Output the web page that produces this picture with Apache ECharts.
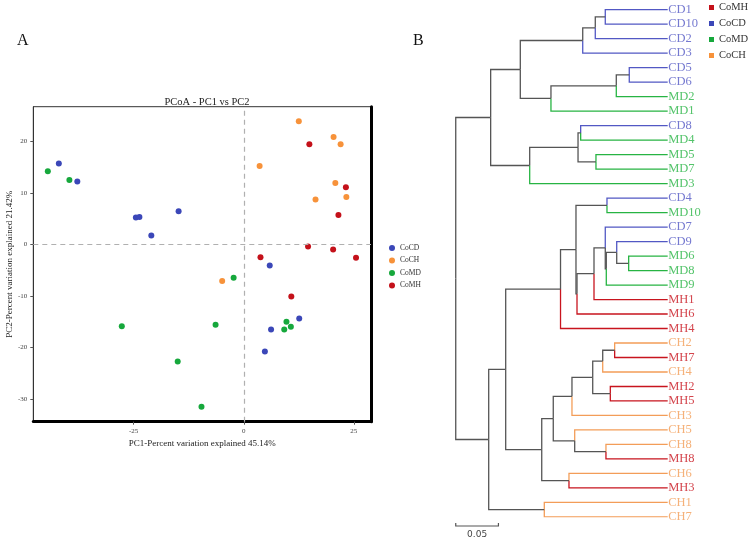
<!DOCTYPE html>
<html><head><meta charset="utf-8">
<script src="https://cdn.jsdelivr.net/npm/echarts@6/dist/echarts.min.js"></script>
<style>html,body{margin:0;padding:0;background:#fff}#c{width:754px;height:542px}</style>
</head><body><div id="c"></div>
<script>
// ---------- Panel A data (PCoA) ----------
const cdPoints = [[-42.0,15.7],[-37.8,12.2],[-24.5,5.2],[-23.7,5.3],[-21.0,1.7],[-14.8,6.4],[5.9,-4.1],[6.2,-16.5],[12.6,-14.4],[4.8,-20.8]];
const chPoints = [[12.5,23.9],[20.4,20.8],[22.0,19.4],[3.6,15.2],[20.8,11.9],[16.3,8.7],[23.3,9.2],[-4.9,-7.1]];
const mdPoints = [[-44.5,14.2],[-39.6,12.5],[-2.3,-6.5],[-27.7,-15.9],[-6.4,-15.6],[-15.0,-22.7],[-9.6,-31.5],[9.2,-16.5],[9.7,-15.0],[10.7,-16.0]];
const mhPoints = [[14.9,19.4],[23.2,11.1],[21.5,5.7],[14.6,-0.4],[20.3,-1.0],[25.5,-2.6],[3.8,-2.5],[10.8,-10.1]];
const xTicks = [-25,0,25];
const yTicks = [-30,-20,-10,0,10,20];

// ---------- Panel B data (dendrogram) ----------
const leaves = ['CD1','CD10','CD2','CD3','CD5','CD6','MD2','MD1','CD8','MD4','MD5','MD7','MD3','CD4','MD10','CD7','CD9','MD6','MD8','MD9','MH1','MH6','MH4','CH2','MH7','CH4','MH2','MH5','CH3','CH5','CH8','MH8','CH6','MH3','CH1','CH7'];
const mergeA = ['CD1','N0','N1','CD5','N3','N4','N2','CD8','MD5','N7','N9','N6','CD4','MD6','CD9','N14','CD7','N16','N17','N12','N19','CH2','N21','MH2','N22','N24','CH8','CH5','N25','CH6','N28','N20','CH1','N31','N11'];
const mergeB = ['CD10','CD2','CD3','CD6','MD2','MD1','N5','MD4','MD7','N8','MD3','N10','MD10','MD8','N13','MD9','N15','MH1','MH6','N18','MH4','MH7','CH4','MH5','N23','CH3','MH8','N26','N27','MH3','N29','N30','CH7','N32','N33'];
const mergeHeight = [0.0731,0.0848,0.0995,0.0450,0.0602,0.1367,0.1726,0.1019,0.0840,0.1050,0.1616,0.2073,0.0711,0.0457,0.0597,0.0719,0.0731,0.0863,0.1062,0.1074,0.1255,0.0621,0.0761,0.0672,0.0878,0.1121,0.0723,0.1089,0.1340,0.1156,0.1475,0.1897,0.1445,0.2096,0.2482];
const scaleBarLength = 0.05;
const treeLegend = ['CoMH','CoCD','CoMD','CoCH'];

const serif = 'Liberation Serif';
const scatterColors = {CoCD:'#3b47b8', CoCH:'#f7923a', CoMD:'#16a83c', CoMH:'#c4111a'};
const treeColors = {CD:'#5258c4', MD:'#27b443', MH:'#c8141e', CH:'#f39d58'};
const innerColor = '#555';

function colorOf(id){
  const p = id.slice(0,2);
  return treeColors[p] || innerColor;
}

// build dendrogram segments
const nodeH = {}, nodeY = {};
leaves.forEach((n,i)=>{ nodeH[n]=0; nodeY[n]=i; });
const segs = [];
mergeA.forEach((a,k)=>{
  const b = mergeB[k], id = 'N'+k, h = mergeHeight[k];
  nodeH[id] = h; nodeY[id] = (nodeY[a]+nodeY[b])/2;
  [a,b].forEach(c=>{
    segs.push({coords:[[h,nodeY[id]],[h,nodeY[c]],[nodeH[c],nodeY[c]]], lineStyle:{color: colorOf(c)}});
  });
});
const leafLabels = leaves.map((n,i)=>({name:n, value:[0,i], label:{color: colorOf(n)}}));

const chart = echarts.init(document.getElementById('c'));
const scatterSeries = (name, data) => ({
  name, type:'scatter', xAxisIndex:0, yAxisIndex:0, data, symbolSize:6,
  itemStyle:{color: scatterColors[name], opacity:1}
});
const s0 = scatterSeries('CoCD', cdPoints);
s0.markLine = {silent:true, symbol:'none', label:{show:false},
  lineStyle:{type:[5,4], color:'#b0b0b0', width:1.2},
  data:[{xAxis:0},{yAxis:0}]};

chart.setOption({
  animation:false,
  backgroundColor:'#fff',
  textStyle:{fontFamily:serif},
  title:[
    {text:'PCoA - PC1 vs PC2', left:202, top:92, textAlign:'center', textStyle:{fontFamily:serif, fontSize:10.5, fontWeight:'normal', color:'#222'}},
    {text:'A', left:12, top:28, textStyle:{fontFamily:serif, fontSize:16, fontWeight:'normal', color:'#111'}},
    {text:'B', left:408, top:28, textStyle:{fontFamily:serif, fontSize:16, fontWeight:'normal', color:'#111'}}
  ],
  legend:[
    {data:['CoCD','CoCH','CoMD','CoMH'], orient:'vertical', left:389, top:244, padding:0,
     itemWidth:6, itemHeight:6, itemGap:4.5, icon:'circle',
     textStyle:{fontFamily:serif, fontSize:7.5, color:'#333'}},
    {data:treeLegend, orient:'vertical', left:709, top:2, padding:0,
     itemWidth:5, itemHeight:5, itemGap:5, icon:'rect',
     textStyle:{fontFamily:serif, fontSize:10.5, color:'#333'}}
  ],
  grid:[
    {left:33.3, top:106.7, right:383, bottom:120.3, show:true, borderColor:'#333', borderWidth:1},
    {left:454.2, right:86.3, top:9.7, bottom:25.1}
  ],
  xAxis:[
    {gridIndex:0, type:'value', min:-47.8, max:28.9,
     axisLine:{show:true, onZero:false, lineStyle:{color:'#000', width:3}},
     axisTick:{show:true, length:3, customValues:xTicks, lineStyle:{color:'#555'}},
     axisLabel:{customValues:xTicks, fontSize:7, color:'#444', margin:6, fontFamily:serif},
     splitLine:{show:false},
     name:'PC1-Percent variation explained 45.14%', nameLocation:'middle', nameGap:16,
     nameTextStyle:{fontFamily:serif, fontSize:9, color:'#222'}},
    {gridIndex:1, type:'value', min:0, max:0.25, inverse:true, show:false}
  ],
  yAxis:[
    {gridIndex:0, type:'value', min:-34.4, max:26.7,
     axisLine:{show:true, onZero:false, lineStyle:{color:'#333', width:1}},
     axisTick:{show:true, length:3, customValues:yTicks, lineStyle:{color:'#555'}},
     axisLabel:{customValues:yTicks, fontSize:7, color:'#444', margin:6, fontFamily:serif},
     splitLine:{show:false},
     name:'PC2-Percent variation explained 21.42%', nameLocation:'middle', nameGap:17,
     nameTextStyle:{fontFamily:serif, fontSize:9, color:'#222'}},
    {gridIndex:0, type:'value', min:-34.4, max:26.7, position:'right',
     axisLine:{show:true, onZero:false, lineStyle:{color:'#000', width:3}},
     axisTick:{show:false}, axisLabel:{show:false}, splitLine:{show:false}},
    {gridIndex:1, type:'value', min:0, max:35, inverse:true, show:false}
  ],
  series:[
    s0,
    scatterSeries('CoCH', chPoints),
    scatterSeries('CoMD', mdPoints),
    scatterSeries('CoMH', mhPoints),
    {type:'lines', coordinateSystem:'cartesian2d', xAxisIndex:1, yAxisIndex:2, polyline:true,
     silent:true, lineStyle:{width:1.3, opacity:1}, data:segs},
    {type:'scatter', xAxisIndex:1, yAxisIndex:2, symbolSize:1, itemStyle:{color:'rgba(0,0,0,0)'},
     silent:true, data:leafLabels,
     label:{show:true, position:'right', distance:0, formatter:'{b}', fontFamily:serif, fontSize:12.5}}
  ]
});

// scale bar using the dendrogram's distance axis
const rootH = mergeHeight[mergeHeight.length-1];
const xa = chart.convertToPixel({xAxisIndex:1}, rootH);
const xb = chart.convertToPixel({xAxisIndex:1}, rootH - scaleBarLength);
const yb = 526;
chart.setOption({graphic:[
  {type:'polyline', shape:{points:[[xa,yb-3],[xa,yb],[xb,yb],[xb,yb-3]]}, style:{stroke:'#555', lineWidth:1.2, fill:null}},
  {type:'text', x:(xa+xb)/2, y:yb+4, style:{text:String(scaleBarLength), fontFamily:'DejaVu Sans', fontSize:9, fill:'#444', textAlign:'center', textVerticalAlign:'top'}}
]});
</script></body></html>
